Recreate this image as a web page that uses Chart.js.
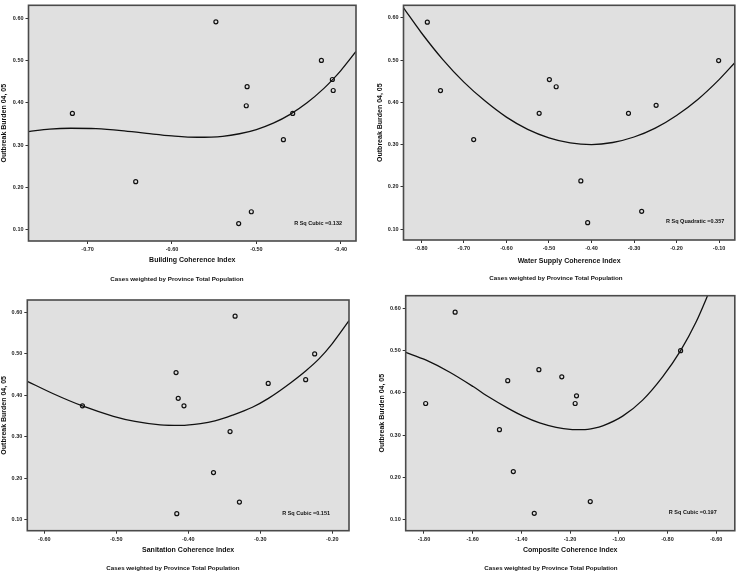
<!DOCTYPE html>
<html><head><meta charset="utf-8">
<script src="https://cdn.jsdelivr.net/npm/chart.js@4/dist/chart.umd.min.js"></script>
<style>
html,body{margin:0;padding:0;background:#fff}
body{width:740px;height:573px;position:relative;overflow:hidden}
canvas{position:absolute;display:block}
</style></head><body>
<canvas id="c1" width="375" height="286" style="left:0;top:0"></canvas>
<canvas id="c2" width="365" height="286" style="left:375px;top:0"></canvas>
<canvas id="c3" width="375" height="287" style="left:0;top:286px"></canvas>
<canvas id="c4" width="365" height="287" style="left:375px;top:286px"></canvas>
<script>
// ---------- data ----------
const yTickValues = [0.10, 0.20, 0.30, 0.40, 0.50, 0.60];
const yTitle = "Outbreak Burden 04, 05";
const footnote = "Cases weighted by Province Total Population";

// Panel 1: Building
const buildingX = [-0.718, -0.643, -0.548, -0.511, -0.512, -0.521, -0.506, -0.468, -0.457, -0.423, -0.410, -0.409];
const buildingY = [0.375, 0.214, 0.591, 0.438, 0.393, 0.115, 0.143, 0.313, 0.375, 0.500, 0.455, 0.429];
const buildingFitX = [-0.770, -0.745, -0.720, -0.690, -0.660, -0.630, -0.600, -0.570, -0.540, -0.520, -0.500, -0.480, -0.460, -0.440, -0.420, -0.410, -0.400, -0.382];
const buildingFitY = [0.332, 0.338, 0.340, 0.339, 0.3345, 0.328, 0.322, 0.3187, 0.321, 0.327, 0.337, 0.352, 0.3728, 0.400, 0.434, 0.454, 0.476, 0.521];
const buildingXTicks = [-0.70, -0.60, -0.50, -0.40];

// Panel 2: Water supply
const waterX = [-0.786, -0.755, -0.677, -0.523, -0.499, -0.483, -0.425, -0.409, -0.313, -0.282, -0.248, -0.101];
const waterY = [0.590, 0.428, 0.312, 0.374, 0.454, 0.437, 0.214, 0.115, 0.374, 0.142, 0.393, 0.499];
const waterFitX = [-0.842, -0.80, -0.75, -0.70, -0.65, -0.60, -0.55, -0.50, -0.45, -0.40, -0.35, -0.30, -0.25, -0.20, -0.15, -0.10, -0.063];
const waterFitY = [0.624, 0.565, 0.502, 0.448, 0.403, 0.365, 0.336, 0.316, 0.304, 0.300, 0.305, 0.318, 0.339, 0.369, 0.407, 0.454, 0.494];
const waterXTicks = [-0.80, -0.70, -0.60, -0.50, -0.40, -0.30, -0.20, -0.10];

// Panel 3: Sanitation
const sanitationX = [-0.547, -0.417, -0.414, -0.406, -0.365, -0.416, -0.335, -0.342, -0.329, -0.289, -0.237, -0.2245];
const sanitationY = [0.375, 0.455, 0.393, 0.375, 0.214, 0.115, 0.591, 0.313, 0.143, 0.429, 0.438, 0.500];
const sanitationFitX = [-0.6236, -0.5875, -0.547, -0.504, -0.474, -0.439, -0.411, -0.383, -0.363, -0.3386, -0.311, -0.2887, -0.2647, -0.237, -0.2185, -0.200, -0.1768];
const sanitationFitY = [0.434, 0.404, 0.3746, 0.3498, 0.3374, 0.3292, 0.328, 0.3322, 0.3388, 0.3525, 0.3715, 0.393, 0.4216, 0.459, 0.488, 0.525, 0.580];
const sanitationXTicks = [-0.60, -0.50, -0.40, -0.30, -0.20];

// Panel 4: Composite
const compositeX = [-1.672, -1.793, -1.456, -1.490, -1.433, -1.347, -1.328, -1.234, -1.1735, -1.179, -1.117, -0.746];
const compositeY = [0.591, 0.375, 0.429, 0.313, 0.214, 0.115, 0.455, 0.438, 0.393, 0.375, 0.143, 0.500];
const compositeFitX = [-1.875, -1.793, -1.694, -1.598, -1.530, -1.456, -1.393, -1.325, -1.257, -1.200, -1.148, -1.100, -1.066, -0.984, -0.902, -0.820, -0.746, -0.683, -0.636, -0.610];
const compositeFitY = [0.496, 0.478, 0.449, 0.415, 0.389, 0.364, 0.345, 0.329, 0.3185, 0.3137, 0.313, 0.3166, 0.322, 0.345, 0.383, 0.438, 0.500, 0.567, 0.629, 0.666];
const compositeXTicks = [-1.80, -1.60, -1.40, -1.20, -1.00, -0.80, -0.60];

// ---------- layout / style ----------
const FONT = "'Liberation Sans', Arial, sans-serif";
const panels = [
  {id:'c1', xs:buildingX, ys:buildingY, fx:buildingFitX, fy:buildingFitY, xTicks:buildingXTicks,
   xTitle:'Building Coherence Index', rsq:'R Sq Cubic =0.132',
   xMin:-0.770, xMax:-0.382, pad:{left:0, top:5, right:19, bottom:21.8}, yW:28.5, xH:23.2,
   rsqPos:[342, 223.3], notePos:[177, 279]},
  {id:'c2', xs:waterX, ys:waterY, fx:waterFitX, fy:waterFitY, xTicks:waterXTicks,
   xTitle:'Water Supply Coherence Index', rsq:'R Sq Quadratic =0.357',
   xMin:-0.842, xMax:-0.063, pad:{left:1, top:0.5, right:2, bottom:21.1}, yW:27.5, xH:24.9,
   rsqPos:[349.3, 221], notePos:[181, 278]},
  {id:'c3', xs:sanitationX, ys:sanitationY, fx:sanitationFitX, fy:sanitationFitY, xTicks:sanitationXTicks,
   xTitle:'Sanitation Coherence Index', rsq:'R Sq Cubic =0.151',
   xMin:-0.6236, xMax:-0.1768, pad:{left:0, top:14, right:26, bottom:19.1}, yW:27.3, xH:23.2,
   rsqPos:[330, 227], notePos:[173, 282]},
  {id:'c4', xs:compositeX, ys:compositeY, fx:compositeFitX, fy:compositeFitY, xTicks:compositeXTicks,
   xTitle:'Composite Coherence Index', rsq:'R Sq Cubic =0.197',
   xMin:-1.875, xMax:-0.5234, pad:{left:2.5, top:9.7, right:4.3, bottom:19.1}, yW:28.2, xH:23.2,
   rsqPos:[341.7, 226.3], notePos:[176, 282]}
];

const framePlugin = {
  id: 'spssFrame',
  beforeDraw(chart, args, opts) {
    const {ctx, chartArea: a} = chart;
    ctx.save();
    ctx.fillStyle = '#e0e0e0';
    ctx.fillRect(a.left, a.top, a.right - a.left, a.bottom - a.top);
    ctx.restore();
  },
  afterDraw(chart, args, opts) {
    const {ctx, chartArea: a} = chart;
    ctx.save();
    ctx.strokeStyle = '#4a4a4a';
    ctx.lineWidth = 1.6;
    ctx.strokeRect(a.left, a.top, a.right - a.left, a.bottom - a.top);
    ctx.fillStyle = '#111';
    ctx.font = 'bold 5.5px ' + FONT;
    ctx.textAlign = 'right';
    ctx.textBaseline = 'middle';
    ctx.fillText(opts.rsq, opts.rsqPos[0], opts.rsqPos[1]);
    ctx.font = 'bold 6.2px ' + FONT;
    ctx.textAlign = 'center';
    ctx.fillText(opts.note, opts.notePos[0], opts.notePos[1]);
    ctx.restore();
  }
};

const tickFont = {family: FONT, size: 5.5, weight: 'bold'};
const titleFont = {family: FONT, size: 7, weight: 'bold', lineHeight: 1.2};

panels.forEach(p => {
  new Chart(document.getElementById(p.id), {
    type: 'scatter',
    data: {
      datasets: [
        {
          data: p.xs.map((x, i) => ({x: x, y: p.ys[i]})),
          pointRadius: 2, pointBorderWidth: 1.2, pointBorderColor: '#111',
          pointBackgroundColor: 'rgba(0,0,0,0)', showLine: false, order: 1
        },
        {
          data: p.fx.map((x, i) => ({x: x, y: p.fy[i]})),
          showLine: true, pointRadius: 0, borderColor: '#111', borderWidth: 1.3,
          cubicInterpolationMode: 'monotone', fill: false, order: 2
        }
      ]
    },
    options: {
      responsive: false, animation: false, events: [],
      layout: {padding: p.pad},
      plugins: {
        legend: {display: false}, tooltip: {enabled: false},
        spssFrame: {rsq: p.rsq, rsqPos: p.rsqPos, note: footnote, notePos: p.notePos}
      },
      scales: {
        x: {
          type: 'linear', position: 'bottom', min: p.xMin, max: p.xMax,
          afterBuildTicks: s => { s.ticks = p.xTicks.map(v => ({value: v})); },
          afterFit: s => { s.height = p.xH; },
          ticks: {callback: v => Number(v).toFixed(2), font: tickFont, color: '#222', padding: 2, maxRotation: 0, autoSkip: false},
          grid: {drawOnChartArea: false, drawTicks: true, tickLength: 3, color: '#333', lineWidth: 1},
          border: {display: false},
          title: {display: true, text: p.xTitle, font: titleFont, color: '#111', padding: {top: 0, bottom: 0}}
        },
        y: {
          type: 'linear', position: 'left', min: 0.074, max: 0.630,
          afterBuildTicks: s => { s.ticks = yTickValues.map(v => ({value: v})); },
          afterFit: s => { s.width = p.yW; },
          ticks: {callback: v => Number(v).toFixed(2), font: tickFont, color: '#222', padding: 2, autoSkip: false},
          grid: {drawOnChartArea: false, drawTicks: true, tickLength: 3, color: '#333', lineWidth: 1},
          border: {display: false},
          title: {display: true, text: yTitle, font: titleFont, color: '#111', padding: {top: 0, bottom: 0}}
        }
      }
    },
    plugins: [framePlugin]
  });
});
</script>
</body></html>
